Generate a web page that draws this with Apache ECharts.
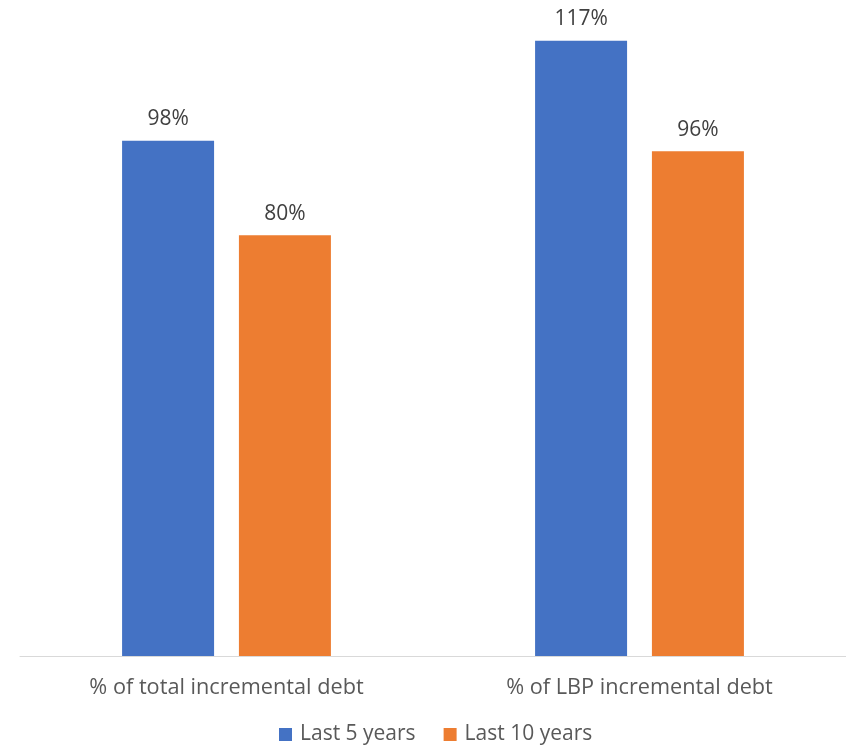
<!DOCTYPE html>
<html>
<head>
<meta charset="utf-8">
<script src="https://cdn.jsdelivr.net/npm/echarts@6/dist/echarts.min.js"></script>
<style>
  html, body { margin: 0; padding: 0; background: #ffffff; }
  #chart { width: 846px; height: 746px; }
</style>
</head>
<body>
<div id="chart"></div>
<script>
// Debt shares by period
const categories = ['% of total incremental debt', '% of LBP incremental debt'];
const last5Years = [98, 117];
const last10Years = [80, 96];
const seriesNames = ['Last 5 years', 'Last 10 years'];

const FONT = '"Open Sans", "Noto Sans", sans-serif';
const FS = 21;

const chart = echarts.init(document.getElementById('chart'));

const labelCfg = {
  show: true,
  position: 'top',
  distance: 11,
  color: '#404040',
  fontFamily: FONT,
  fontSize: FS,
  formatter: p => p.value + '%'
};

chart.setOption({
  animation: false,
  backgroundColor: '#ffffff',
  grid: { left: 20, right: 0, top: 25, bottom: 90, containLabel: false },
  legend: {
    top: 724,
    left: 279,
    padding: 0,
    itemWidth: 13,
    itemHeight: 13,
    itemGap: 28,
    icon: 'rect',
    textStyle: { color: '#595959', fontFamily: FONT, fontSize: FS, padding: [0, 0, 0, 3] },
    data: seriesNames
  },
  xAxis: {
    type: 'category',
    data: categories,
    axisLine: { lineStyle: { color: '#d9d9d9', width: 1 } },
    axisTick: { show: false },
    axisLabel: { color: '#595959', fontFamily: FONT, fontSize: 21.7, margin: 21 }
  },
  yAxis: {
    type: 'value',
    min: 0,
    max: 120,
    show: false,
    splitLine: { show: false }
  },
  series: [
    {
      name: seriesNames[0],
      type: 'bar',
      data: last5Years,
      barWidth: 92,
      barGap: '27%',
      itemStyle: { color: '#4472c4' },
      label: labelCfg
    },
    {
      name: seriesNames[1],
      type: 'bar',
      data: last10Years,
      barWidth: 92,
      barGap: '27%',
      itemStyle: { color: '#ed7d31' },
      label: labelCfg
    }
  ]
});
</script>
</body>
</html>
